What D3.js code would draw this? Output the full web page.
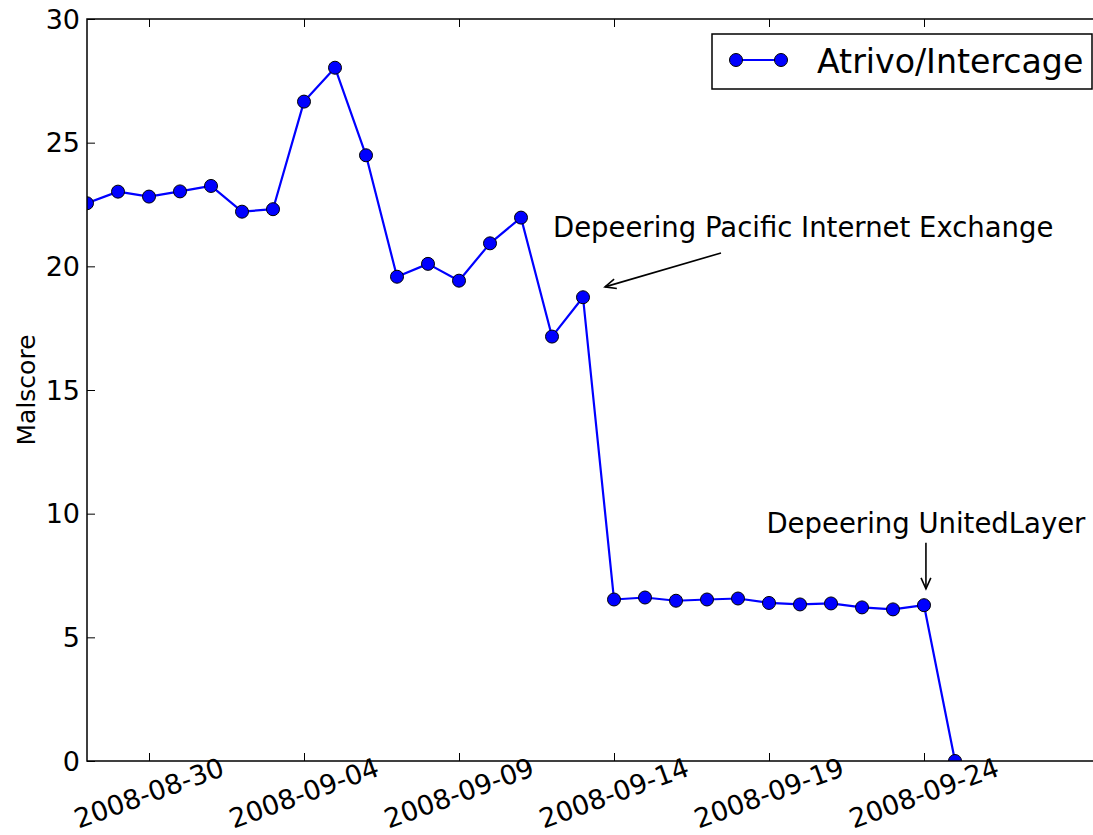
<!DOCTYPE html>
<html>
<head>
<meta charset="utf-8">
<script src="https://cdn.jsdelivr.net/npm/d3@7"></script>
<style>
  html, body { margin: 0; padding: 0; background: #fff; }
  svg { display: block; font-family: "DejaVu Sans", sans-serif; }
</style>
</head>
<body>
<svg id="chart" width="1093" height="835"></svg>
<script>
// ---------- data ----------
const dates = [
  "2008-08-28","2008-08-29","2008-08-30","2008-08-31","2008-09-01","2008-09-02","2008-09-03",
  "2008-09-04","2008-09-05","2008-09-06","2008-09-07","2008-09-08","2008-09-09","2008-09-10",
  "2008-09-11","2008-09-12","2008-09-13","2008-09-14","2008-09-15","2008-09-16","2008-09-17",
  "2008-09-18","2008-09-19","2008-09-20","2008-09-21","2008-09-22","2008-09-23","2008-09-24",
  "2008-09-25"
];
const malscore = [
  22.55, 23.02, 22.82, 23.03, 23.25, 22.21, 22.31,
  26.66, 28.03, 24.49, 19.58, 20.10, 19.42, 20.93,
  21.97, 17.16, 18.75, 6.53, 6.61, 6.48, 6.53,
  6.57, 6.39, 6.33, 6.37, 6.21, 6.13, 6.30,
  0.0
];
const seriesName = "Atrivo/Intercage";
const yLabel = "Malscore";
const xTickLabels = ["2008-08-30","2008-09-04","2008-09-09","2008-09-14","2008-09-19","2008-09-24"];
const yTickValues = [0, 5, 10, 15, 20, 25, 30];
const xDomain = ["2008-08-28", "2008-10-01"];
const yDomain = [0, 30];
// annotations: text anchor and arrow (from -> to) in data coordinates (date, value)
const annotations = [
  { text: "Depeering Pacific Internet Exchange", anchor: "start",
    textAt: ["2008-09-12T00:45", 21.19],
    from: ["2008-09-17T10:50", 20.54], to: ["2008-09-13T17:00", 19.17] },
  { text: "Depeering UnitedLayer", anchor: "middle",
    textAt: ["2008-09-24T01:30", 9.22],
    from: ["2008-09-24T01:30", 8.82], to: ["2008-09-24T01:30", 6.96] }
];

// ---------- layout ----------
const parse = d3.isoParse;
const svg = d3.select("#chart");
const mLeft = 87, mTop = 19, mBottom = 761;
const dayPx = 31;
const x0 = parse(xDomain[0]), x1 = parse(xDomain[1]);
const nDays = (x1 - x0) / 864e5;
const x = d3.scaleTime().domain([x0, x1]).range([mLeft, mLeft + nDays * dayPx]);
const y = d3.scaleLinear().domain(yDomain).range([mBottom, mTop]);
const mRight = x.range()[1];

const defs = svg.append("defs");
defs.append("clipPath").attr("id", "plotclip")
  .append("rect").attr("x", mLeft).attr("y", mTop)
  .attr("width", mRight - mLeft).attr("height", mBottom - mTop);

const fontTick = 27;

// line + markers
const data = dates.map((d, i) => ({ date: parse(d), v: malscore[i] }));
const plot = svg.append("g").attr("clip-path", "url(#plotclip)");
plot.append("path").datum(data)
  .attr("fill", "none").attr("stroke", "#0000ff").attr("stroke-width", 2.2)
  .attr("stroke-linejoin", "round")
  .attr("d", d3.line().x(d => x(d.date)).y(d => y(d.v)));
plot.selectAll("circle.pt").data(data).enter().append("circle")
  .attr("class", "pt")
  .attr("cx", d => x(d.date)).attr("cy", d => y(d.v)).attr("r", 6.5)
  .attr("fill", "#0000ff").attr("stroke", "#000").attr("stroke-width", 1);

// axes (matplotlib style, inward ticks)
const xTicks = xTickLabels.map(parse);
const xAxisB = d3.axisBottom(x).tickValues(xTicks).tickSize(-8).tickFormat(() => "");
const xAxisT = d3.axisTop(x).tickValues(xTicks).tickSize(-8).tickFormat(() => "");
const yAxisL = d3.axisLeft(y).tickValues(yTickValues).tickSize(-8).tickFormat(() => "");
const gB = svg.append("g").attr("transform", `translate(0,${mBottom})`).call(xAxisB);
const gT = svg.append("g").attr("transform", `translate(0,${mTop})`).call(xAxisT);
const gL = svg.append("g").attr("transform", `translate(${mLeft},0)`).call(yAxisL);
[gB, gT, gL].forEach(g => {
  g.select(".domain").remove();
  g.selectAll(".tick line").attr("stroke", "#000").attr("stroke-width", 1);
});

// spines
svg.append("rect").attr("x", mLeft).attr("y", mTop)
  .attr("width", mRight - mLeft).attr("height", mBottom - mTop)
  .attr("fill", "none").attr("stroke", "#000").attr("stroke-width", 1.5);

// y tick labels
svg.append("g").selectAll("text").data(yTickValues).enter().append("text")
  .attr("x", mLeft - 7).attr("y", d => y(d))
  .attr("text-anchor", "end").attr("dominant-baseline", "central")
  .attr("font-size", fontTick).attr("fill", "#000")
  .text(d => d);

// x tick labels (rotated)
svg.append("g").selectAll("text").data(xTickLabels).enter().append("text")
  .attr("transform", d => `translate(${x(parse(d))},${mBottom + 32}) rotate(-20)`)
  .attr("text-anchor", "middle").attr("dominant-baseline", "central")
  .attr("font-size", fontTick).attr("fill", "#000")
  .text(d => d);

// y label
svg.append("text")
  .attr("transform", `translate(26,${(mTop + mBottom) / 2}) rotate(-90)`)
  .attr("text-anchor", "middle").attr("dominant-baseline", "central")
  .attr("font-size", 25).attr("fill", "#000")
  .text(yLabel);

// annotations
function arrow(g, p0, p1) {
  g.append("line").attr("x1", p0[0]).attr("y1", p0[1]).attr("x2", p1[0]).attr("y2", p1[1])
    .attr("stroke", "#000").attr("stroke-width", 1.6);
  const ang = Math.atan2(p1[1] - p0[1], p1[0] - p0[0]);
  const L = 12, W = 0.42;
  const a = [p1[0] - L * Math.cos(ang - W), p1[1] - L * Math.sin(ang - W)];
  const b = [p1[0] - L * Math.cos(ang + W), p1[1] - L * Math.sin(ang + W)];
  g.append("path").attr("d", `M${a[0]},${a[1]}L${p1[0]},${p1[1]}L${b[0]},${b[1]}`)
    .attr("fill", "none").attr("stroke", "#000").attr("stroke-width", 1.6);
}
const ag = svg.append("g");
annotations.forEach(a => {
  ag.append("text")
    .attr("x", x(parse(a.textAt[0]))).attr("y", y(a.textAt[1]))
    .attr("text-anchor", a.anchor).attr("font-size", 27.5).attr("fill", "#000")
    .text(a.text);
  arrow(ag, [x(parse(a.from[0])), y(a.from[1])], [x(parse(a.to[0])), y(a.to[1])]);
});

// legend
const lg = svg.append("g");
lg.append("rect").attr("x", 712).attr("y", 34).attr("width", 380).attr("height", 55)
  .attr("fill", "#fff").attr("stroke", "#000").attr("stroke-width", 1.5);
lg.append("line").attr("x1", 736).attr("x2", 781).attr("y1", 60).attr("y2", 60)
  .attr("stroke", "#0000ff").attr("stroke-width", 2.2);
[736, 781].forEach(cx => lg.append("circle").attr("cx", cx).attr("cy", 60).attr("r", 6.5)
  .attr("fill", "#0000ff").attr("stroke", "#000").attr("stroke-width", 1));
lg.append("text").attr("x", 817).attr("y", 61).attr("dominant-baseline", "central")
  .attr("font-size", 33.2).attr("fill", "#000").text(seriesName);
</script>
</body>
</html>
